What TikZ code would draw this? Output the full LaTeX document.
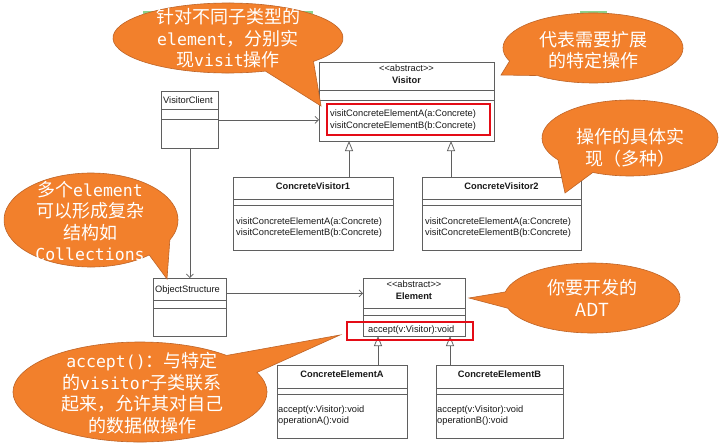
\documentclass[tikz,border=0pt]{standalone}
\usepackage{fontspec}
\setmainfont{Liberation Sans}
\newfontfamily\umlfont{Liberation Sans}[Ligatures=ResetAll]
\newfontfamily\cjk{Noto Sans CJK SC}
\newfontfamily\monofam{DejaVu Sans Mono}
\usetikzlibrary{arrows.meta}
\definecolor{calloutfill}{RGB}{242,128,44}
\definecolor{calloutdraw}{RGB}{190,100,40}
\definecolor{umlline}{RGB}{95,95,95}
\definecolor{umltext}{RGB}{25,25,25}
\definecolor{hired}{RGB}{228,12,22}
\definecolor{slidegreen}{RGB}{140,210,140}
\newcommand\monotxt[1]{{\monofam\fontsize{16.5}{21.5}\selectfont #1}}
\newcommand\bubble[8]{%
  \filldraw[bubble] (#1,#2) ++(#6:#3 and #4) arc[start angle=#6, end angle={#5+360}, x radius=#3, y radius=#4] -- (#7,#8) -- cycle;}
\begin{document}
\begin{tikzpicture}[x=1pt,y=-1pt,
  cls/.style={draw=umlline, line width=0.75pt, fill=white, inner sep=0pt, anchor=north west},
  lbl/.style={inner sep=0pt, text=umltext, font=\umlfont\fontsize{9.3}{11}\selectfont},
  lbll/.style={lbl, anchor=west},
  bold/.style={lbl, font=\umlfont\fontsize{9.3}{11}\selectfont\bfseries},
  comp/.style={draw=umlline, line width=0.75pt},
  assoc/.style={draw=umlline, line width=0.75pt, -{Straight Barb[length=3.5pt,width=7pt]}},
  gen/.style={draw=umlline, line width=0.75pt, -{Triangle[open, length=10pt, width=8pt, fill=white]}},
  hilite/.style={draw=hired, line width=2.4pt},
  bubble/.style={fill=calloutfill, draw=calloutdraw, line width=0.6pt},
  btext/.style={text=white, align=center, inner sep=0pt, font=\cjk\fontsize{18}{21.5}\selectfont},
]
\fill[white] (0,0) rectangle (720,442);
\useasboundingbox (0,0) rectangle (720,442);
\fill[slidegreen] (143,11) rectangle (313,14);
\fill[slidegreen] (580,11) rectangle (607,14);

% classes
\node[cls, minimum width=175pt, minimum height=79pt] (visitor) at (319,62) {};
\node[cls, minimum width=57pt, minimum height=57pt] (vclient) at (161,91) {};
\node[cls, minimum width=160pt, minimum height=73pt] (cv1) at (233,177) {};
\node[cls, minimum width=159pt, minimum height=73pt] (cv2) at (422,177) {};
\node[cls, minimum width=73pt, minimum height=58pt] (objs) at (153,278) {};
\node[cls, minimum width=102pt, minimum height=58pt] (elem) at (363,278) {};
\node[cls, minimum width=130pt, minimum height=73pt] (cea) at (277,365) {};
\node[cls, minimum width=127pt, minimum height=73pt] (ceb) at (436,365) {};

% compartments
\draw[comp] (319,90) -- (494,90) (319,100) -- (494,100);
\draw[comp] (161,109) -- (218,109) (161,119) -- (218,119);
\draw[comp] (233,199) -- (393,199) (233,205) -- (393,205);
\draw[comp] (422,199) -- (581,199) (422,205) -- (581,205);
\draw[comp] (153,300) -- (226,300) (153,308) -- (226,308);
\draw[comp] (363,308) -- (465,308) (363,315) -- (465,315);
\draw[comp] (277,388) -- (407,388) (277,394) -- (407,394);
\draw[comp] (436,388) -- (563,388) (436,394) -- (563,394);

% texts
\node[lbl] (vst) at (406.5,68) {<<abstract>>};
\node[bold] (vnm) at (406.5,80) {Visitor};
\node[lbll] (vm1) at (330,114) {visitConcreteElementA(a:Concrete)};
\node[lbll] (vm2) at (330,126) {visitConcreteElementB(b:Concrete)};
\node[lbll] (vcn) at (163,100) {VisitorClient};
\node[bold] (c1n) at (313,186) {ConcreteVisitor1};
\node[lbll] (c1a) at (236,222) {visitConcreteElementA(a:Concrete)};
\node[lbll] (c1b) at (236,233) {visitConcreteElementB(b:Concrete)};
\node[bold] (c2n) at (501.5,186) {ConcreteVisitor2};
\node[lbll] (c2a) at (425,222) {visitConcreteElementA(a:Concrete)};
\node[lbll] (c2b) at (425,233) {visitConcreteElementB(b:Concrete)};
\node[lbll] (osn) at (155,290) {ObjectStructure};
\node[lbl] (est) at (414,284) {<<abstract>>};
\node[bold] (enm) at (414,296) {Element};
\node[lbll] (eac) at (368,330) {accept(v:Visitor):void};
\node[bold] (can) at (342,374) {ConcreteElementA};
\node[lbll] (ca1) at (278,410) {accept(v:Visitor):void};
\node[lbll] (ca2) at (278,421) {operationA():void};
\node[bold] (cbn) at (499.5,374) {ConcreteElementB};
\node[lbll] (cb1) at (437,410) {accept(v:Visitor):void};
\node[lbll] (cb2) at (437,421) {operationB():void};

% connectors
\draw[assoc] (vclient.east) -- (vclient.east -| visitor.west);
\draw[assoc] (vclient.south) -- (objs.north);
\coordinate (osout) at ([yshift=14pt]objs.east);
\draw[assoc] (osout) -- (osout -| elem.west);
\coordinate (g1) at (349,141);
\coordinate (g2) at (451,141);
\coordinate (g3) at (378,336);
\coordinate (g4) at (450,336);
\draw[gen] (g1 |- cv1.north) -- (g1);
\draw[gen] (g2 |- cv2.north) -- (g2);
\draw[gen] (g3 |- cea.north) -- (g3);
\draw[gen] (g4 |- ceb.north) -- (g4);

% highlights
\draw[hilite] (327,104) rectangle (490,135);
\draw[hilite] (347,322) rectangle (473,340);

% callouts
\bubble{228}{38}{115}{35}{42}{71}{321}{106}
\bubble{593}{48}{90}{35}{128}{158}{501}{75}
\bubble{630}{138}{88}{38}{115}{145}{565}{193}
\bubble{91}{220}{87}{47}{25}{48}{167}{279}
\bubble{592}{298}{88}{35}{163}{190}{469}{298}
\bubble{140}{392}{127}{50}{313}{337}{340}{335}

\node[btext] (t1) at (228,38.5) {针对不同子类型的\\\monotxt{element}，分别实\\现\monotxt{visit}操作};
\node[btext] (t2) at (593,50) {代表需要扩展\\的特定操作};
\node[btext] (t3) at (630,147.5) {操作的具体实\\现（多种）};
\node[btext] (t4) at (90,221) {多个\monotxt{element}\\可以形成复杂\\结构如\\\monotxt{Collections}};
\node[btext] (t5) at (592,298) {你要开发的\\ADT};
\node[btext] (t6) at (142,393) {\monotxt{accept()}：与特定\\的\monotxt{visitor}子类联系\\起来，允许其对自己\\的数据做操作};
\end{tikzpicture}
\end{document}
